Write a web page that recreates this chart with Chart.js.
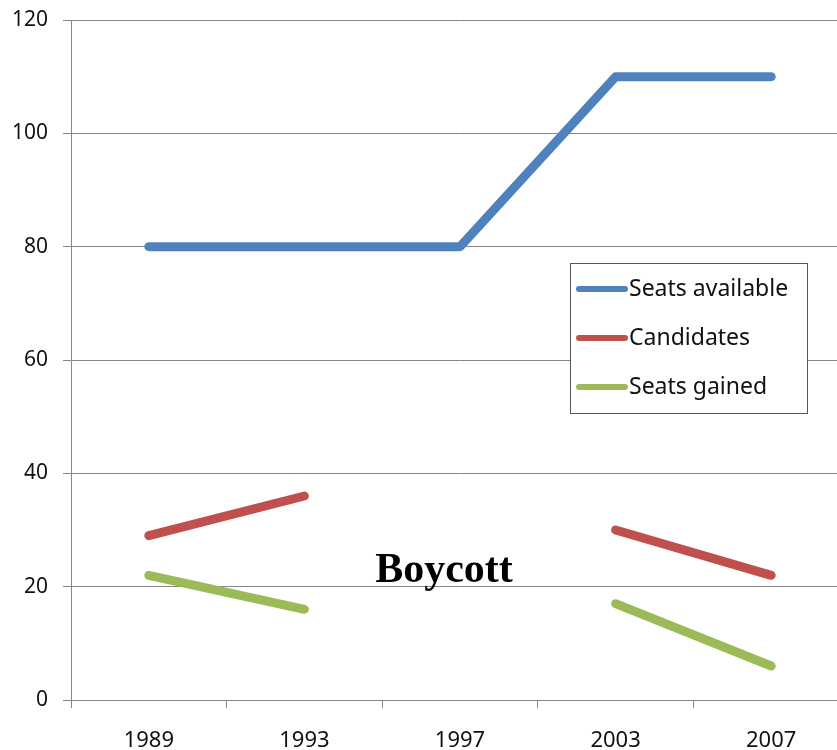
<!DOCTYPE html>
<html>
<head>
<meta charset="utf-8">
<script src="https://cdn.jsdelivr.net/npm/chart.js@4"></script>
<style>
  body { margin: 0; background: #fff; }
  #wrap { width: 837px; height: 750px; overflow: hidden; }
</style>
</head>
<body>
<div id="wrap"><canvas id="chart" width="849" height="750"></canvas></div>
<script>
// Election years (category axis)
const years = ['1989', '1993', '1997', '2003', '2007'];

// Series values, null = boycotted election
const seatsAvailable = [80, 80, 80, 110, 110];
const candidates = [29, 36, null, 30, 22];
const seatsGained = [22, 16, null, 17, 6];

const seriesNames = ['Seats available', 'Candidates', 'Seats gained'];
const seriesColors = ['#4F81BD', '#C0504D', '#9BBB59'];

const boycottText = 'Boycott';

const axisGray = '#868686';
const labelFont = "'Noto Sans', 'DejaVu Sans', sans-serif";

// Legend drawn as a boxed panel inside the plot area
const boxLegend = {
    id: 'boxLegend',
    afterDraw(chart) {
        const ctx = chart.ctx;
        const left = 570, top = 263, width = 237, height = 150;
        ctx.save();
        ctx.fillStyle = '#fff';
        ctx.fillRect(left, top, width, height);
        ctx.strokeStyle = '#555';
        ctx.lineWidth = 1;
        ctx.strokeRect(left + 0.5, top + 0.5, width, height);
        ctx.font = '23px ' + labelFont;
        ctx.textBaseline = 'middle';
        chart.data.datasets.forEach((ds, i) => {
            const y = top + 26 + i * 49;
            ctx.strokeStyle = ds.borderColor;
            ctx.lineWidth = 6;
            ctx.lineCap = 'round';
            ctx.beginPath();
            ctx.moveTo(579, y);
            ctx.lineTo(625, y);
            ctx.stroke();
            ctx.fillStyle = '#111';
            ctx.fillText(ds.label, 629, y);
        });
        ctx.restore();
    }
};

// "Boycott" note placed in the gap of the 1997 category
const boycottLabel = {
    id: 'boycottLabel',
    afterDatasetsDraw(chart) {
        const xs = chart.scales.x, ys = chart.scales.y;
        const ctx = chart.ctx;
        ctx.save();
        ctx.font = "bold 42px 'Liberation Serif', 'DejaVu Serif', serif";
        ctx.fillStyle = '#000';
        ctx.textAlign = 'center';
        ctx.textBaseline = 'middle';
        ctx.fillText(boycottText, xs.getPixelForValue(2) - 16, ys.getPixelForValue(22.7));
        ctx.restore();
    }
};

function lineSet(label, data, color) {
    return {
        label: label,
        data: data,
        borderColor: color,
        backgroundColor: color,
        borderWidth: 9,
        borderCapStyle: 'round',
        borderJoinStyle: 'round',
        pointRadius: 0,
        spanGaps: false,
        tension: 0
    };
}

new Chart(document.getElementById('chart'), {
    type: 'line',
    data: {
        labels: years,
        datasets: [
            lineSet(seriesNames[0], seatsAvailable, seriesColors[0]),
            lineSet(seriesNames[1], candidates, seriesColors[1]),
            lineSet(seriesNames[2], seatsGained, seriesColors[2])
        ]
    },
    options: {
        responsive: false,
        animation: false,
        layout: { padding: { top: 20, right: 0, bottom: 0, left: 0 } },
        plugins: {
            legend: { display: false },
            tooltip: { enabled: false }
        },
        scales: {
            x: {
                offset: true,
                grid: {
                    offset: true,
                    drawOnChartArea: false,
                    drawTicks: true,
                    tickLength: 8,
                    color: axisGray
                },
                border: { color: axisGray },
                ticks: {
                    padding: 20,
                    maxRotation: 0,
                    color: '#111',
                    font: { family: "'Liberation Sans Narrow', " + labelFont, size: 22 }
                },
                afterFit(scale) {
                    scale.height = 50;
                    scale.paddingLeft = 0;
                    scale.paddingRight = 0;
                }
            },
            y: {
                min: 0,
                max: 120,
                ticks: {
                    stepSize: 20,
                    padding: 15,
                    color: '#111',
                    font: { family: labelFont, size: 21 }
                },
                grid: {
                    color: axisGray,
                    tickLength: 8
                },
                border: { color: axisGray },
                afterFit(scale) {
                    scale.width = 71;
                    scale.paddingTop = 0;
                    scale.paddingBottom = 0;
                }
            }
        }
    },
    plugins: [boycottLabel, boxLegend]
});
</script>
</body>
</html>
